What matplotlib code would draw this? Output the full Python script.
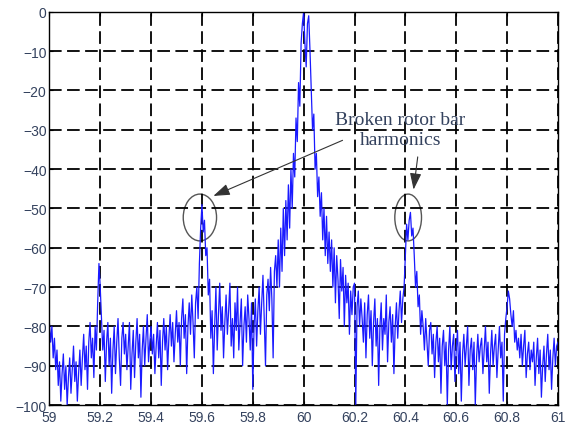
import matplotlib
matplotlib.use('Agg')
import matplotlib.pyplot as plt
from matplotlib.patches import Ellipse
import numpy as np

# spectrum, 59..61 Hz in 0.005 Hz steps
f_start = 59.0
f_step = 0.005
mag_db = [
    -79, -84, -80, -88, -83, -91, -86, -95, -89, -99, -92, -87, -96, -90, -100, -93, -88, -97, -91, -85,
    -94, -89, -99, -92, -86, -95, -88, -82, -91, -85, -96, -84, -79, -88, -83, -93, -80, -86, -74, -64,
    -70, -78, -86, -81, -94, -84, -79, -90, -83, -97, -86, -80, -92, -84, -78, -88, -95, -83, -79, -87,
    -82, -91, -85, -79, -96, -87, -81, -93, -84, -78, -88, -82, -98, -86, -80, -90, -83, -77, -89, -84,
    -80, -87, -82, -92, -85, -79, -88, -81, -95, -84, -78, -86, -80, -91, -83, -77, -85, -79, -89, -82,
    -76, -84, -79, -90, -78, -73, -83, -77, -92, -80, -74, -82, -72, -79, -88, -74, -70, -78, -64, -55,
    -49, -56, -53, -62, -60, -72, -68, -83, -76, -92, -80, -70, -86, -77, -69, -81, -75, -88, -79, -72,
    -82, -76, -69, -85, -78, -88, -74, -81, -70, -86, -79, -73, -90, -80, -75, -84, -72, -78, -86, -74,
    -96, -80, -73, -85, -76, -70, -82, -74, -67, -78, -90, -72, -68, -76, -65, -73, -88, -66, -62, -70,
    -58, -70, -55, -66, -50, -62, -48, -58, -44, -55, -40, -50, -36, -42, -27, -33, -18, -24, -8, -3,
    0, -8, -14, -3, -1, -10, -20, -30, -26, -40, -36, -47, -42, -52, -46, -58, -50, -62, -52, -64,
    -56, -66, -58, -70, -60, -74, -62, -68, -78, -63, -71, -65, -80, -67, -74, -69, -82, -71, -77, -70,
    -69, -100, -75, -71, -80, -73, -78, -84, -74, -88, -77, -72, -83, -76, -90, -79, -73, -85, -78, -95,
    -80, -74, -86, -78, -82, -72, -89, -79, -75, -84, -77, -92, -80, -74, -83, -76, -71, -79, -73, -70,
    -62, -54, -58, -53, -51, -57, -55, -62, -70, -66, -75, -72, -82, -76, -80, -86, -78, -84, -90, -81,
    -79, -87, -82, -93, -84, -80, -89, -83, -97, -85, -81, -90, -84, -100, -86, -80, -91, -85, -82, -94,
    -86, -81, -92, -84, -99, -87, -82, -90, -85, -80, -95, -86, -83, -91, -84, -100, -88, -82, -89, -85,
    -83, -92, -86, -80, -89, -84, -97, -87, -81, -90, -85, -82, -93, -86, -80, -88, -84, -99, -82, -78,
    -75, -71, -73, -77, -80, -76, -84, -81, -86, -83, -88, -82, -90, -85, -81, -93, -87, -84, -91, -86,
    -89, -84, -95, -88, -83, -92, -86, -98, -90, -85, -94, -87, -82, -91, -86, -96, -88, -83, -90, -85,
    -84,
]
freq = f_start + f_step * np.arange(len(mag_db))

x_ticks = [59, 59.2, 59.4, 59.6, 59.8, 60, 60.2, 60.4, 60.6, 60.8, 61]
x_labels = ['59', '59.2', '59.4', '59.6', '59.8', '60', '60.2', '60.4', '60.6', '60.8', '61']
y_ticks = [0, -10, -20, -30, -40, -50, -60, -70, -80, -90, -100]

label_col = '#34425e'

fig = plt.figure(figsize=(5.74, 4.27), dpi=100)
ax = fig.add_axes([0.086, 0.049, 0.886, 0.921])

ax.plot(freq, mag_db, color='#1a1aff', lw=0.9)

ax.set_xlim(59, 61)
ax.set_ylim(-100, 0)
ax.set_xticks(x_ticks)
ax.set_xticklabels(x_labels)
ax.set_yticks(y_ticks)
ax.tick_params(direction='in', top=True, right=True, length=3, width=0.8,
               labelsize=10, labelcolor=label_col)
ax.tick_params(axis='y', pad=2)
ax.tick_params(axis='x', pad=3.5)
for lab in ax.get_xticklabels() + ax.get_yticklabels():
    lab.set_family('Liberation Sans')
ax.grid(True, color='black', linestyle=(0, (7, 3)), linewidth=1.3)
for s in ax.spines.values():
    s.set_linewidth(1.0)

# circles round the sidebands
ax.add_patch(Ellipse((59.592, -52.3), 0.131, 11.9, fill=False, ec='#555555', lw=1.0))
ax.add_patch(Ellipse((60.411, -52.3), 0.105, 11.9, fill=False, ec='#555555', lw=1.0))

ax.text(60.38, -30, 'Broken rotor bar\nharmonics', ha='center', va='center',
        family='Liberation Serif', fontsize=14, color=label_col, linespacing=1.2)
arrow_kw = dict(arrowstyle='-|>,head_length=1.0,head_width=0.35', color='#333333', lw=0.8)
ax.annotate('', xy=(59.635, -47.1), xytext=(60.163, -32.4), arrowprops=arrow_kw)
ax.annotate('', xy=(60.431, -45.9), xytext=(60.45, -36.2), arrowprops=arrow_kw)

fig.savefig('out.png', dpi=100)
